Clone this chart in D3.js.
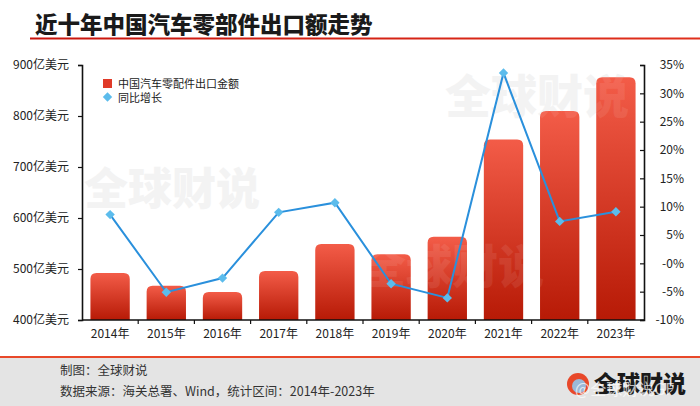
<!DOCTYPE html>
<html><head><meta charset="utf-8">
<script src="https://cdn.jsdelivr.net/npm/d3@7/dist/d3.min.js"></script>
<style>body{margin:0;background:#fff}svg{display:block}</style>
</head><body>
<svg id="c" width="700" height="406"></svg>
<script>
const years = ["2014年","2015年","2016年","2017年","2018年","2019年","2020年","2021年","2022年","2023年"];
const exportValue = [492, 467, 455, 496, 549, 529, 563, 754, 810, 876];
const yoyGrowth = [8.6, -5.1, -2.6, 9.0, 10.7, -3.6, -6.1, 33.6, 7.4, 9.1];
const leftTicks = [400, 500, 600, 700, 800, 900];
const rightTicks = [-10, -5, 0, 5, 10, 15, 20, 25, 30, 35];
const seriesNames = ["中国汽车零配件出口金额", "同比增长"];

const font = "'Noto Sans CJK SC', 'Noto Sans', sans-serif";
const svg = d3.select("#c");
const defs = svg.append("defs");
const g1 = defs.append("linearGradient").attr("id","barg").attr("x1",0).attr("y1",0).attr("x2",0).attr("y2",1);
g1.append("stop").attr("offset","0%").attr("stop-color","#f35c48");
g1.append("stop").attr("offset","100%").attr("stop-color","#b71a06");
const g2 = defs.append("linearGradient").attr("id","lineg").attr("x1",0).attr("x2",1);
g2.append("stop").attr("offset","0%").attr("stop-color","#c8140c");
g2.append("stop").attr("offset","100%").attr("stop-color","#e0301c");

// title
svg.append("text").attr("x",35).attr("y",33).attr("font-family",font).attr("font-weight",900)
  .attr("font-size",22.5).attr("fill","#1a1a1a").text("近十年中国汽车零部件出口额走势");
svg.append("rect").attr("x",30).attr("y",37.5).attr("width",670).attr("height",2).attr("fill","url(#lineg)");

const L = 82, R = 644, T = 65, B = 320;
const x = d3.scaleBand().domain(years).range([L, R]).paddingInner(0.3).paddingOuter(0.15);
const yL = d3.scaleLinear().domain([400, 900]).range([B, T]);
const yR = d3.scaleLinear().domain([-10, 35]).range([B, T]);

// watermarks (behind)
const wm = svg.append("g").attr("font-family",font).attr("font-weight",900).attr("fill","#f3f3f3");
wm.append("text").attr("x",445).attr("y",113).attr("font-size",46).text("全球财说");
wm.append("text").attr("x",84).attr("y",205).attr("font-size",44).text("全球财说");

// bars with rounded top
const r = 6;
svg.append("g").selectAll("path").data(exportValue).join("path")
  .attr("fill","url(#barg)")
  .attr("d",(d,i)=>{
    const x0 = x(years[i]), w = x.bandwidth(), y0 = yL(d), y1 = yL(400);
    return `M${x0},${y1}V${y0+r}Q${x0},${y0} ${x0+r},${y0}H${x0+w-r}Q${x0+w},${y0} ${x0+w},${y0+r}V${y1}Z`;
  });

// watermark overlay on bars
const wm2 = svg.append("g").attr("font-family",font).attr("font-weight",900).attr("fill","#ffffff").attr("opacity",0.08);
wm2.append("text").attr("x",445).attr("y",113).attr("font-size",46).text("全球财说");
wm2.append("text").attr("x",360).attr("y",283).attr("font-size",46).text("全球财说");

// line
const cx = i => x(years[i]) + x.bandwidth()/2;
const line = d3.line().x((d,i)=>cx(i)).y(d=>yR(d));
svg.append("path").datum(yoyGrowth).attr("d",line).attr("fill","none").attr("stroke","#2a90dc").attr("stroke-width",2);
const diamond = d3.symbol(d3.symbolSquare, 44);
svg.append("g").selectAll("path").data(yoyGrowth).join("path")
  .attr("d",diamond)
  .attr("transform",(d,i)=>`translate(${cx(i)},${yR(d)}) rotate(45)`)
  .attr("fill","#5cbcec");

// axes
const axL = svg.append("g").attr("transform",`translate(${L},0)`)
  .call(d3.axisLeft(yL).tickValues(leftTicks).tickSize(4).tickFormat(d=>d+"亿美元"));
const axR = svg.append("g").attr("transform",`translate(${R},0)`)
  .call(d3.axisRight(yR).tickValues(rightTicks).tickSize(-4).tickPadding(40).tickFormat(d=>(d===0?"-0":d)+"%"));
axR.selectAll(".tick text").attr("text-anchor","end");
const axX = svg.append("g").attr("transform",`translate(0,${B})`)
  .call(d3.axisBottom(x).tickSize(0).tickPadding(9));
[axL, axR, axX].forEach(a=>{
  a.selectAll("path.domain").attr("stroke","#111").attr("stroke-width",1.6);
  a.selectAll("line").attr("stroke","#111").attr("stroke-width",1.2);
  a.selectAll("text").attr("font-family",font).attr("font-size",12).attr("fill","#222");
});
axL.selectAll("text").attr("dx",-6);
axX.select("path.domain").attr("d",`M${L},0H${R}`);
// x boundary ticks
const bounds = years.slice(1).map((y,i)=> (x(years[i]) + x.bandwidth() + x(y))/2);
axX.selectAll("line.b").data(bounds).join("line").attr("class","b")
  .attr("x1",d=>d).attr("x2",d=>d).attr("y1",0).attr("y2",4).attr("stroke","#111").attr("stroke-width",1.2);

// legend
const lg = svg.append("g").attr("font-family",font).attr("font-size",11).attr("fill","#222");
lg.append("rect").attr("x",103).attr("y",79).attr("width",9).attr("height",9).attr("fill","#e03a28");
lg.append("path").attr("d",diamond).attr("transform","translate(107.5,97) rotate(45)").attr("fill","#5cbcec");
lg.append("text").attr("x",118).attr("y",87.5).text(seriesNames[0]);
lg.append("text").attr("x",118).attr("y",101.5).text(seriesNames[1]);

// footer
svg.append("rect").attr("x",0).attr("y",358).attr("width",700).attr("height",48).attr("fill","#e4e4e4");
svg.append("rect").attr("x",0).attr("y",356).attr("width",700).attr("height",2).attr("fill","#e8482a");
const ft = svg.append("g").attr("font-family",font).attr("font-size",12.5).attr("fill","#333");
ft.append("text").attr("x",60).attr("y",375).text("制图：全球财说");
ft.append("text").attr("x",60).attr("y",396).text("数据来源：海关总署、Wind，统计区间：2014年-2023年");

// logo
svg.append("circle").attr("cx",578).attr("cy",384).attr("r",11).attr("fill","#e8482a");
svg.append("circle").attr("cx",579).attr("cy",386).attr("r",7).attr("fill","#9bb8d8");
svg.append("text").attr("x",594).attr("y",392).attr("font-family",font).attr("font-weight",900)
  .attr("font-size",23).attr("fill","#1a1a1a").text("全球财说");
svg.append("text").attr("x",575).attr("y",395).attr("font-family",font)
  .attr("font-size",16).attr("fill","#ffffff").attr("opacity",0.7).text("@全球财说GF");
</script>
</body></html>
